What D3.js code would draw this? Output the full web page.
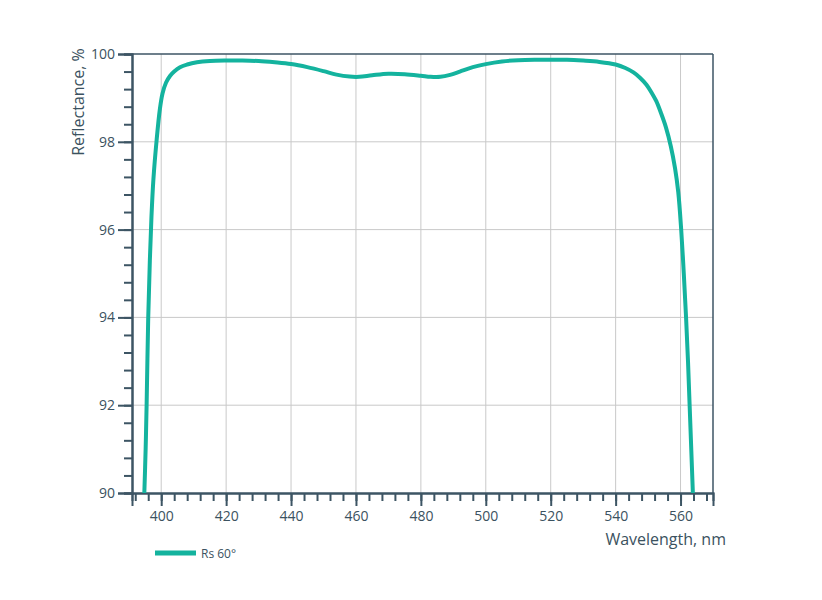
<!DOCTYPE html>
<html>
<head>
<meta charset="utf-8">
<script src="https://cdn.jsdelivr.net/npm/d3@7"></script>
<style>
  body { margin: 0; background: #ffffff; }
  svg { display: block; }
  text { font-family: "Open Sans", "Noto Sans", sans-serif; fill: #3b5260; }
</style>
</head>
<body>
<svg id="chart" width="822" height="600"></svg>
<script>
// ---- data ----
const wavelength = [394.8, 395.2, 395.5, 396.0, 396.5, 397.0, 397.6, 398.6, 399.6, 400.4, 401.5, 402.7, 404.0, 405.8, 408, 411, 415, 420, 425, 430, 435, 440, 445, 450, 454, 458, 461, 465, 470, 475, 480, 483, 486, 489, 492, 496, 500, 505, 510, 515, 520, 525, 530, 535, 540, 543, 545.5, 547.5, 549.5, 551, 552.5, 554, 555.5, 557, 558.3, 559.3, 560.2, 561.0, 561.7, 562.3, 562.8, 563.3, 563.8];
const reflectance = [90, 91, 92, 94, 95.3, 96.3, 97.15, 98.05, 98.75, 99.1, 99.35, 99.5, 99.6, 99.7, 99.76, 99.81, 99.84, 99.85, 99.85, 99.84, 99.81, 99.77, 99.7, 99.61, 99.53, 99.485, 99.48, 99.515, 99.55, 99.54, 99.505, 99.48, 99.48, 99.525, 99.6, 99.7, 99.77, 99.83, 99.86, 99.87, 99.87, 99.87, 99.85, 99.82, 99.76, 99.68, 99.58, 99.46, 99.3, 99.13, 98.93, 98.65, 98.33, 97.9, 97.4, 96.85, 96.0, 95.0, 94.0, 93.0, 92.0, 91.0, 90.0];
const xMajorTicks = [400, 420, 440, 460, 480, 500, 520, 540, 560];
const xMinorTicks = d3.range(392, 570, 4);
const yMajorTicks = [90, 92, 94, 96, 98, 100];
const yMinorTicks = d3.range(0, 26).map(i => 90 + i * 0.4);
const seriesName = "Rs 60°";
const xTitle = "Wavelength, nm";
const yTitle = "Reflectance, %";

// ---- layout ----
const svg = d3.select("#chart");
const L = 132, R = 713, T = 54, B = 493;
const axisColor = "#3d5564";
const gridColor = "#c9c9c9";
const lineColor = "#14b39e";

const x = d3.scaleLinear().domain([391, 570]).range([L, R]);
const y = d3.scaleLinear().domain([90, 100]).range([B, T]);

// grid
svg.append("g").selectAll("line").data(xMajorTicks).join("line")
  .attr("x1", d => x(d)).attr("x2", d => x(d)).attr("y1", T).attr("y2", B)
  .attr("stroke", gridColor).attr("stroke-width", 1);
svg.append("g").selectAll("line").data(yMajorTicks.filter(d => d > 90 && d < 100)).join("line")
  .attr("x1", L).attr("x2", R).attr("y1", d => y(d)).attr("y2", d => y(d))
  .attr("stroke", gridColor).attr("stroke-width", 1);

// frame (top & right)
svg.append("line").attr("x1", L).attr("x2", R).attr("y1", T).attr("y2", T)
  .attr("stroke", axisColor).attr("stroke-width", 1.5);
svg.append("line").attr("x1", R).attr("x2", R).attr("y1", T).attr("y2", B)
  .attr("stroke", axisColor).attr("stroke-width", 1.5);

// x axis
const gx = svg.append("g").attr("transform", `translate(0,${B})`);
gx.call(d3.axisBottom(x).tickValues(xMinorTicks).tickSize(8).tickFormat(""));
gx.call(g => g.append("g").call(d3.axisBottom(x).tickValues(xMajorTicks).tickSize(13).tickPadding(5).tickFormat(d3.format("d"))));
gx.selectAll("path.domain").attr("stroke", axisColor).attr("stroke-width", 2);
gx.selectAll(".tick line").attr("stroke", axisColor).attr("stroke-width", 2);
gx.selectAll(".tick text").attr("fill", "#3b5260").style("font-size", "14px")
  .style("font-family", "'Open Sans', sans-serif");

// y axis
const gy = svg.append("g").attr("transform", `translate(${L},0)`);
gy.call(d3.axisLeft(y).tickValues(yMinorTicks).tickSize(8).tickFormat(""));
gy.call(g => g.append("g").call(d3.axisLeft(y).tickValues(yMajorTicks).tickSize(14).tickPadding(3).tickFormat(d3.format("d"))));
gy.selectAll("path.domain").attr("stroke", axisColor).attr("stroke-width", 2);
gy.selectAll(".tick line").attr("stroke", axisColor).attr("stroke-width", 2);
gy.selectAll(".tick text").attr("fill", "#3b5260").style("font-size", "14px")
  .style("font-family", "'Open Sans', sans-serif");

// curve
const data = wavelength.map((w, i) => ({ w, r: reflectance[i] }));
const line = d3.line().x(d => x(d.w)).y(d => y(d.r)).curve(d3.curveCatmullRom.alpha(0.5));
svg.append("path").datum(data).attr("d", line)
  .attr("fill", "none").attr("stroke", lineColor).attr("stroke-width", 4)
  .attr("stroke-linejoin", "round");

// titles
svg.append("text").attr("x", 726).attr("y", 545).attr("text-anchor", "end")
  .style("font-size", "16px").text(xTitle);
svg.append("text").attr("transform", `translate(84,102) rotate(-90)`).attr("text-anchor", "middle")
  .style("font-size", "16px").text(yTitle);

// legend
svg.append("line").attr("x1", 155).attr("x2", 196).attr("y1", 553).attr("y2", 553)
  .attr("stroke", lineColor).attr("stroke-width", 5);
svg.append("text").attr("x", 201).attr("y", 557.5).style("font-size", "12px").text(seriesName);
</script>
</body>
</html>
